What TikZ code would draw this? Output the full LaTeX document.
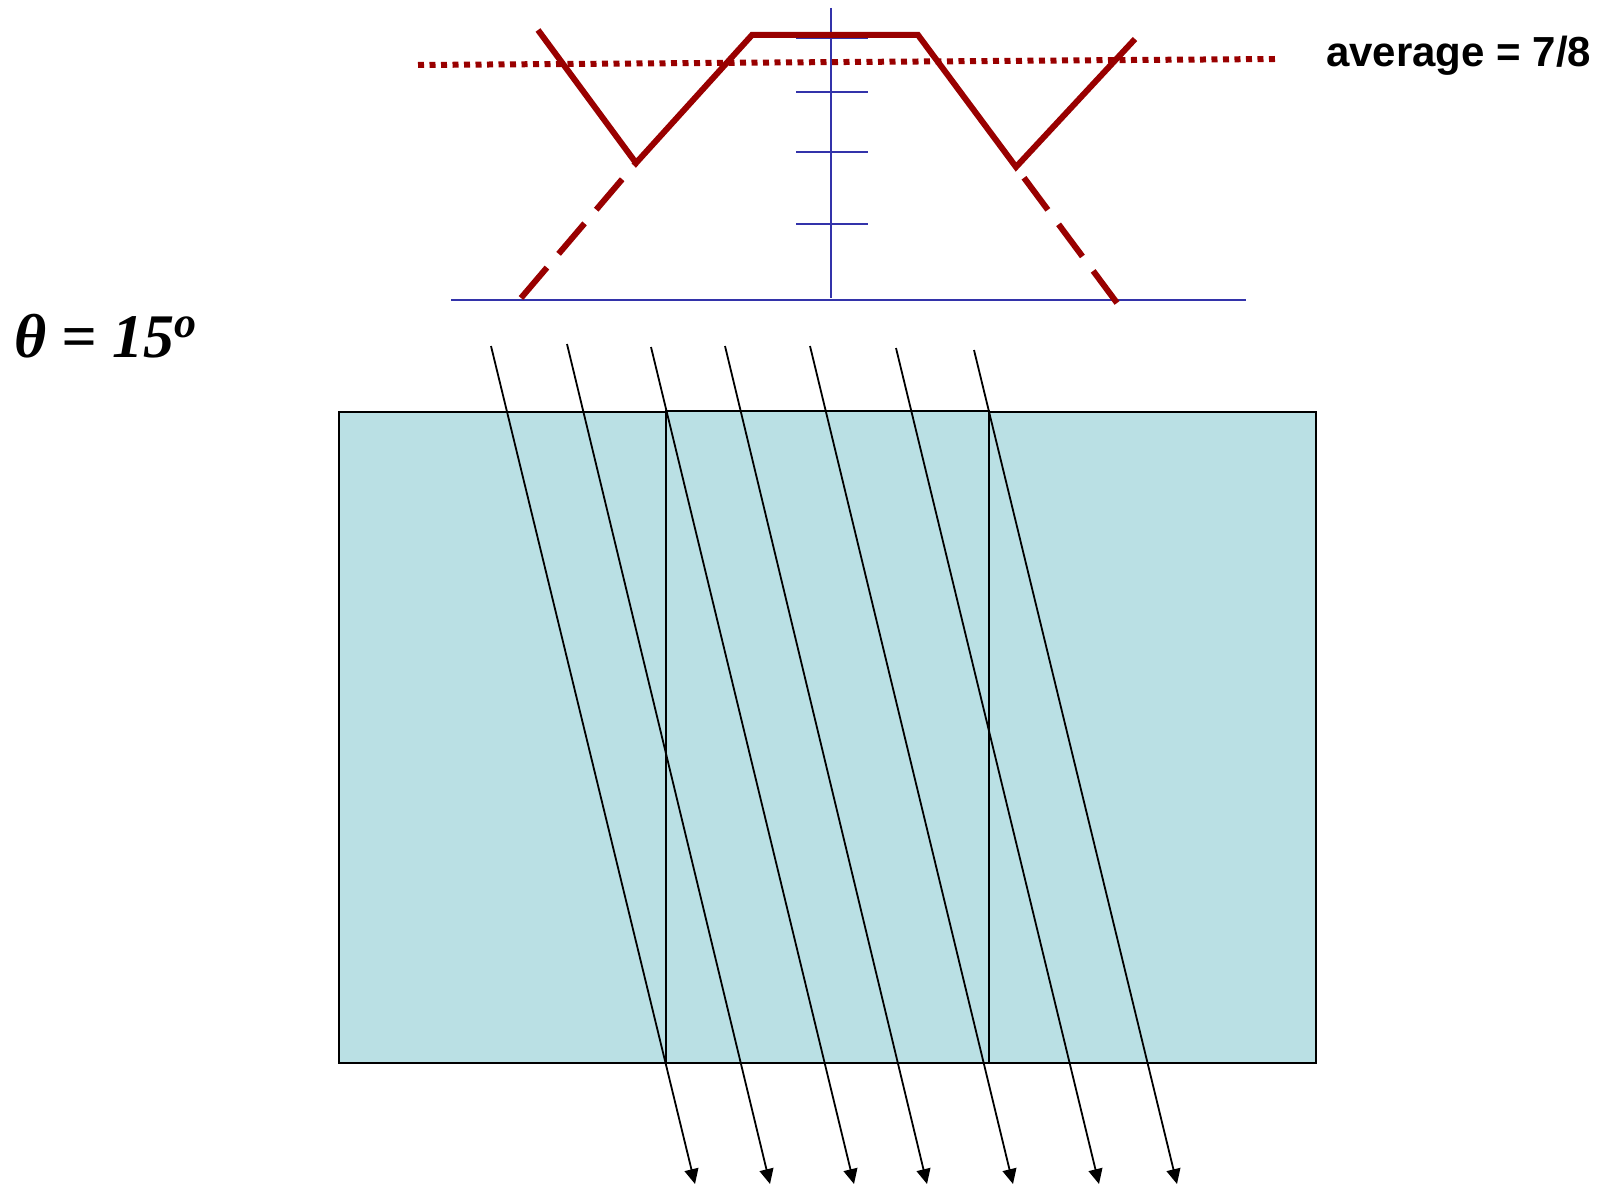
\documentclass[tikz,border=0pt]{standalone}
\usepackage{fontspec}
\setmainfont{Liberation Serif}
\newfontfamily\arialfont{Liberation Sans}
\usetikzlibrary{arrows.meta}
\definecolor{darkred}{RGB}{153,0,0}
\definecolor{axisblue}{RGB}{51,51,170}
\definecolor{slab}{RGB}{186,224,228}
\tikzset{
  axisline/.style={draw=axisblue,line width=1.5pt},
  curve/.style={draw=darkred,line width=6pt,line join=miter},
  dashcurve/.style={draw=darkred,line width=6pt,dash pattern=on 40pt off 18pt},
  avgline/.style={draw=darkred,line width=6pt,dash pattern=on 6pt off 5.5pt},
  slabbox/.style={fill=slab,draw=black,line width=1.5pt},
  ray/.style={draw=black,line width=1.8pt,-{Triangle[length=15pt,width=14pt]}},
  lbl/.style={inner sep=0pt,anchor=west}
}
\begin{document}
\begin{tikzpicture}[x=1pt,y=-1pt]
\useasboundingbox[fill=white] (0,0) rectangle (1611,1185);

% slab
\draw[slabbox] (339,412) rectangle (666,1063);
\draw[slabbox] (666,411) rectangle (989,1063);
\draw[slabbox] (989,412) rectangle (1316,1063);

% axes
\coordinate (b0) at (451,300);
\coordinate (b1) at (1246,300);
\coordinate (a0) at (831,8);
\coordinate (a1) at (831,298);
\draw[axisline] (b0) -- (b1);
\draw[axisline] (a0) -- (a1);
\foreach \yy [count=\i] in {38,92,152,224}{
  \coordinate (tl\i) at (796,\yy);
  \coordinate (tr\i) at (868,\yy);
  \draw[axisline] (tl\i) -- (tr\i);
}

% average dotted line
\coordinate (d0) at (418,65);
\coordinate (d1) at (1275,59);
\draw[avgline] (d0) -- (d1);

% red curve
\coordinate (p1) at (538,30);
\coordinate (p2) at (636,163);
\coordinate (p3) at (752,35);
\coordinate (p4) at (918,35);
\coordinate (p5) at (1016,167);
\coordinate (p6) at (1135,39);
\coordinate (q1) at (521,298);
\coordinate (q2) at (1117,303);
\draw[curve] (p1) -- (p2) -- (p3) -- (p4) -- (p5) -- (p6);
\draw[dashcurve] (q1) -- (p2);
\draw[dashcurve] (q2) -- (p5);

% rays
\foreach \sx/\sy/\ex [count=\i] in {491/346/695, 567/344/770, 651/347/854, 725/346/927, 810/346/1013, 896/348/1099, 974/350/1177}{
  \coordinate (s\i) at (\sx,\sy);
  \coordinate (e\i) at (\ex,1184);
  \draw[ray] (s\i) -- (e\i);
}

% labels
\node[lbl] (avg) at (1326,56) {\arialfont\bfseries\fontsize{42}{50}\selectfont average = 7/8};
\node[lbl,anchor=base west] (theta) at (14,357) {\fontsize{62}{70}\selectfont\bfseries\itshape θ = 15\raisebox{20pt}{\fontsize{44}{50}\selectfont o}};
\end{tikzpicture}
\end{document}
